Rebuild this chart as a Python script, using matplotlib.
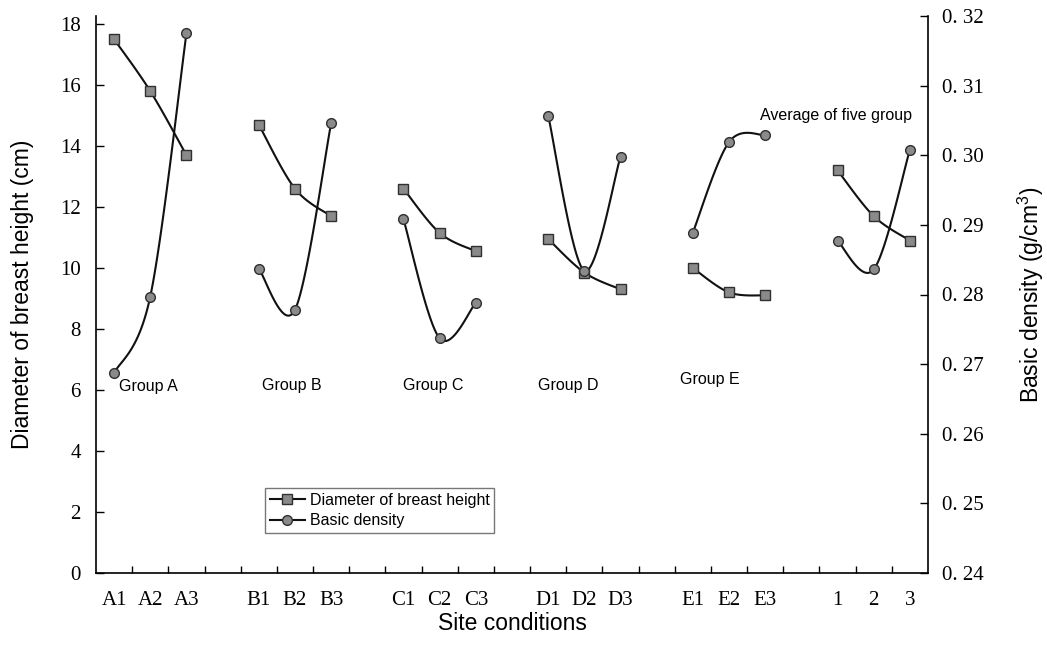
import matplotlib
matplotlib.use("Agg")
import matplotlib.pyplot as plt
import numpy as np
from matplotlib.lines import Line2D

# Data
groups = ["A", "B", "C", "D", "E", "Avg"]
tick_labels = ["A1", "A2", "A3", "", "B1", "B2", "B3", "", "C1", "C2", "C3", "",
               "D1", "D2", "D3", "", "E1", "E2", "E3", "", "1", "2", "3"]
dbh = [
    [17.5, 15.8, 13.7],
    [14.7, 12.6, 11.7],
    [12.6, 11.15, 10.55],
    [10.95, 9.85, 9.3],
    [10.0, 9.2, 9.1],
    [13.2, 11.7, 10.9],
]
density = [
    [0.2687, 0.2797, 0.3175],
    [0.2837, 0.2778, 0.3046],
    [0.2908, 0.2737, 0.2788],
    [0.3057, 0.2834, 0.2998],
    [0.2889, 0.3019, 0.3029],
    [0.2877, 0.2836, 0.3008],
]
group_text = ["Group A", "Group B", "Group C", "Group D", "Group E"]
group_text_x = [0.14, 4.09, 7.99, 11.72, 15.65]
group_text_y = [6.1, 6.15, 6.15, 6.15, 6.35]


def smooth(x, y, n=30):
    # Excel-like smoothed line (Catmull-Rom as cubic Bezier)
    x = np.asarray(x, float)
    y = np.asarray(y, float)
    px = np.concatenate([[x[0]], x, [x[-1]]])
    py = np.concatenate([[y[0]], y, [y[-1]]])
    xs, ys = [], []
    t = np.linspace(0, 1, n)
    for i in range(1, len(px) - 2):
        p0 = np.array([px[i], py[i]])
        p3 = np.array([px[i + 1], py[i + 1]])
        c1 = p0 + (np.array([px[i + 1], py[i + 1]]) - np.array([px[i - 1], py[i - 1]])) / 6
        c2 = p3 - (np.array([px[i + 2], py[i + 2]]) - np.array([px[i], py[i]])) / 6
        b = ((1 - t) ** 3)[:, None] * p0 + (3 * (1 - t) ** 2 * t)[:, None] * c1 \
            + (3 * (1 - t) * t ** 2)[:, None] * c2 + (t ** 3)[:, None] * p3
        xs.extend(b[:, 0])
        ys.extend(b[:, 1])
    return xs, ys


plt.rcParams["mathtext.default"] = "regular"

fig = plt.figure(figsize=(10.47, 6.5), dpi=100)
ax = fig.add_axes([96 / 1047, 77 / 650, 832 / 1047, 557 / 650])
ax2 = ax.twinx()

mface = "#8a8a8a"
medge = "#303030"

for g in range(len(groups)):
    xg = [g * 4 + j for j in range(3)]
    sx, sy = smooth(xg, dbh[g])
    ax.plot(sx, sy, color="#111111", lw=1.5, zorder=2)
    ax.plot(xg, dbh[g], ls="none", marker="s", ms=7, mfc=mface, mec=medge, mew=1.0, zorder=3)
    sx, sy = smooth(xg, density[g])
    ax2.plot(sx, sy, color="#111111", lw=1.5, zorder=2)
    ax2.plot(xg, density[g], ls="none", marker="o", ms=7, mfc=mface, mec=medge, mew=1.0, zorder=3)

ax.set_xlim(-0.5, 22.5)
ax.set_ylim(0, 18 * 557 / 549)
ax2.set_ylim(0.24, 0.32)

serif = "Liberation Serif"
sans = "Liberation Sans"

ax.set_yticks(np.arange(0, 19, 2))
ax.set_yticklabels([str(v) for v in range(0, 19, 2)], fontfamily=serif, fontsize=15)
rt = np.round(np.arange(0.24, 0.3201, 0.01), 2)
ax2.set_yticks(rt)
ax2.set_yticklabels(["0. %02d" % round(v * 100) for v in rt], fontfamily=serif, fontsize=15)

ax.set_xticks(range(len(tick_labels)))
ax.set_xticklabels(tick_labels, fontfamily=serif, fontsize=15)
ax.set_xticks(np.arange(0.5, 22.5, 1), minor=True)
ax.tick_params(axis="x", which="major", length=0, pad=13)
ax.tick_params(axis="x", which="minor", direction="in", length=5, width=1)
ax.tick_params(axis="y", direction="in", length=6, width=1, pad=11)
ax2.tick_params(axis="y", direction="in", length=6, width=1, pad=10)

for a in (ax, ax2):
    a.spines["top"].set_visible(False)
ax.spines["right"].set_visible(False)
ax2.spines["left"].set_visible(False)
ax2.spines["bottom"].set_visible(False)
for s in ("left", "bottom"):
    ax.spines[s].set_linewidth(1.2)
ax2.spines["right"].set_linewidth(1.2)

ax.set_ylabel("Diameter of breast height (cm)", fontfamily=sans, fontsize=16.5)
ax.yaxis.set_label_coords(-0.074, 0.5)
ax2.set_ylabel("Basic density (g/cm$^{3}$)", fontfamily=sans, fontsize=16.5, rotation=90)
ax2.yaxis.set_label_coords(1.106, 0.5)
ax.set_xlabel("Site conditions", fontfamily=sans, fontsize=16.5)
ax.xaxis.set_label_coords(0.5, -0.070)

for txt, tx, ty in zip(group_text, group_text_x, group_text_y):
    ax.text(tx, ty, txt, fontfamily=sans, fontsize=11.5, va="center", ha="left")
ax.text(17.86, 15.0, "Average of five group", fontfamily=sans, fontsize=11.5, va="center", ha="left")

handles = [
    Line2D([], [], color="#111111", lw=1.5, marker="s", ms=7, mfc=mface, mec=medge),
    Line2D([], [], color="#111111", lw=1.5, marker="o", ms=7, mfc=mface, mec=medge),
]
leg = ax2.legend(handles, ["Diameter of breast height", "Basic density"],
                 loc="lower left", bbox_to_anchor=(0.203, 0.072), borderaxespad=0,
                 frameon=True, fancybox=False, edgecolor="#555555",
                 prop={"family": sans, "size": 11.5}, handlelength=2.2,
                 handletextpad=0.3, labelspacing=0.35, borderpad=0.3)
leg.get_frame().set_linewidth(1.0)

fig.savefig("out.png", dpi=100)
